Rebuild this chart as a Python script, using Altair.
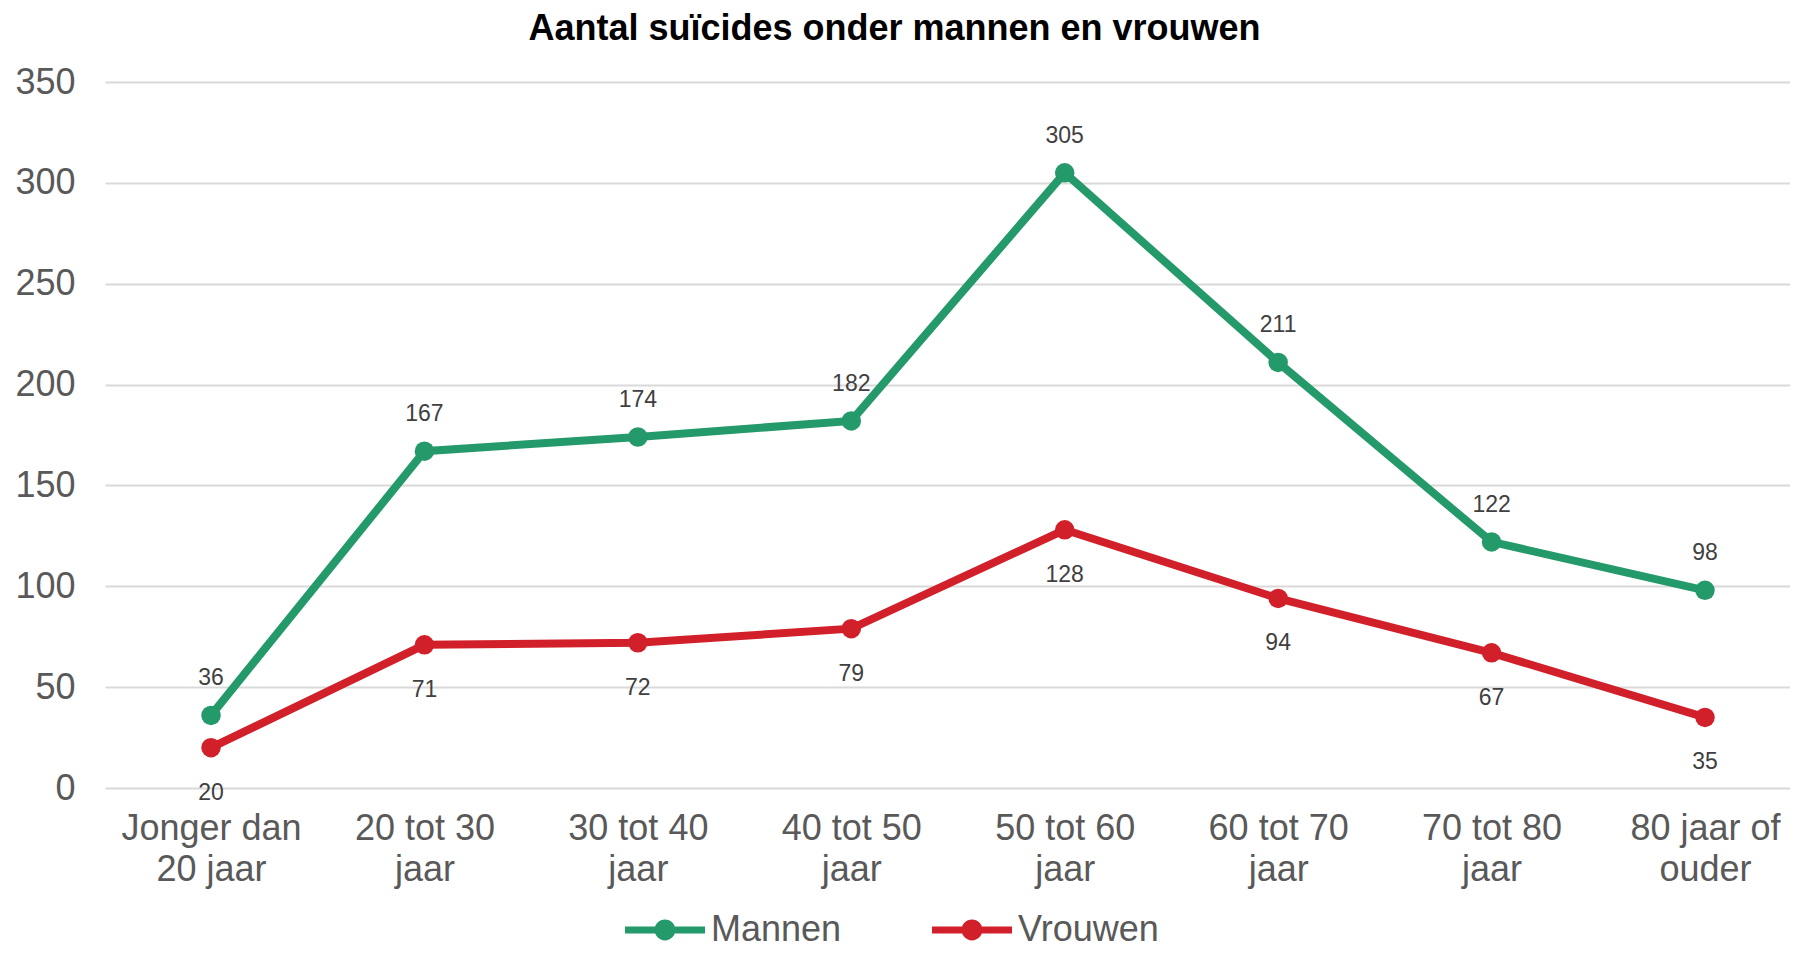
import altair as alt
import pandas as pd

categories = [
    "Jonger dan\n20 jaar",
    "20 tot 30\njaar",
    "30 tot 40\njaar",
    "40 tot 50\njaar",
    "50 tot 60\njaar",
    "60 tot 70\njaar",
    "70 tot 80\njaar",
    "80 jaar of\nouder",
]
mannen = [36, 167, 174, 182, 305, 211, 122, 98]
vrouwen = [20, 71, 72, 79, 128, 94, 67, 35]
series = ["Mannen", "Vrouwen"]
colors = ["#24996a", "#d2202a"]
y_ticks = [0, 50, 100, 150, 200, 250, 300, 350]

rows = []
for s, vals in zip(series, [mannen, vrouwen]):
    for c, v in zip(categories, vals):
        rows.append({"cat": c, "serie": s, "value": v})
df = pd.DataFrame(rows)

FONT = "Liberation Sans"
GREY = "#595959"

x_enc = alt.X(
    "cat:N",
    sort=categories,
    scale=alt.Scale(type="point", padding=0.4475, align=0.555),
    axis=alt.Axis(
        title=None,
        labelExpr="split(datum.value, '\\n')",
        labelAngle=0,
        labelAlign="center",
        labelBaseline="top",
        labelFontSize=36,
        labelLineHeight=41,
        labelColor=GREY,
        labelPadding=23,
        labelLimit=0,
        labelOverlap=False,
        ticks=False,
        tickSize=0,
        domain=False,
        grid=False,
    ),
)
y_enc = alt.Y(
    "value:Q",
    scale=alt.Scale(domain=[0, 350], nice=False, zero=True),
    axis=alt.Axis(
        title=None,
        values=y_ticks,
        labelFontSize=36,
        labelColor=GREY,
        labelPadding=30,
        ticks=False,
        tickSize=0,
        domain=False,
        grid=True,
        gridColor="#d9d9d9",
        gridWidth=2,
    ),
)

legend_path = (
    "M-1,-0.09L1,-0.09L1,0.09L-1,0.09Z "
    "M-0.26,0A0.26,0.26 0 1,1 0.26,0A0.26,0.26 0 1,1 -0.26,0Z"
)
legend = alt.Legend(
    title=None,
    orient="none",
    direction="horizontal",
    legendX=520,
    legendY=808,
    symbolType=legend_path,
    symbolSize=6400,
    symbolStrokeWidth=0,
    symbolOpacity=1,
    labelFontSize=36,
    labelColor=GREY,
    labelOffset=6,
    columnPadding=90,
    padding=0,
    labelLimit=0,
)
color_enc = alt.Color(
    "serie:N", scale=alt.Scale(domain=series, range=colors), legend=legend
)

base = alt.Chart(df)

lines = base.mark_line(strokeWidth=8).encode(x=x_enc, y=y_enc, color=color_enc)
points = base.mark_point(filled=True, size=380, opacity=1).encode(
    x=x_enc, y=y_enc, color=color_enc
)

text_m = (
    base.transform_filter(alt.datum.serie == "Mannen")
    .mark_text(dy=-30, fontSize=23, color="#404040", baseline="alphabetic", align="center")
    .encode(x=x_enc, y=y_enc, text="value:Q")
)
text_v = (
    base.transform_filter(alt.datum.serie == "Vrouwen")
    .mark_text(dy=52, fontSize=23, color="#404040", baseline="alphabetic", align="center")
    .encode(x=x_enc, y=y_enc, text="value:Q")
)

chart = (
    alt.layer(lines, points, text_m, text_v)
    .properties(
        width=1685,
        height=706,
        autosize=alt.AutoSizeParams(type="none"),
        padding={"left": 97, "top": 74, "right": 0, "bottom": 163},
        title=alt.Title(
            "Aantal suïcides onder mannen en vrouwen",
            fontSize=36,
            font=FONT,
            fontWeight="bold",
            color="black",
            anchor="middle",
            dx=-53,
            offset=16,
        ),
    )
    .configure(font=FONT)
    .configure_view(stroke=None)
)

chart.save("out.html", embed_options={"renderer": "svg", "actions": False})
